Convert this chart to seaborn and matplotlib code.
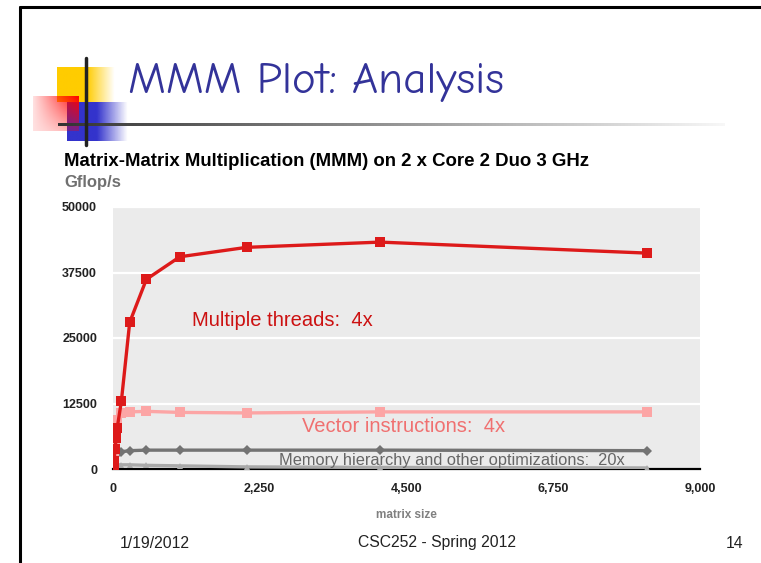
import numpy as np
import pandas as pd
import matplotlib
matplotlib.use("Agg")
import matplotlib.pyplot as plt
import seaborn as sns

# --- datos ---
sizes = [8, 16, 32, 48, 64, 128, 256, 512, 1024, 2048, 4096, 8192]
threads = [300, 1500, 3800, 6000, 7800, 12900, 28000, 36200, 40500, 42300, 43300, 41200]
vector = [200, 2100, 5200, 6900, 9400, 10600, 10900, 11000, 10800, 10700, 10900, 10900]
memory = [700, 1500, 2400, 2900, 3100, 3300, 3500, 3600, 3600, 3600, 3600, 3500]
naive = [500, 700, 800, 800, 800, 800, 800, 700, 600, 400, 300, 200]

series_names = ["naive", "memory", "vector", "threads"]
x_ticks = [0, 2250, 4500, 6750, 9000]
x_ticklabels = ["0", "2,250", "4,500", "6,750", "9,000"]
y_ticks = [0, 12500, 25000, 37500, 50000]

df = pd.concat([
    pd.DataFrame({"size": sizes, "gflops": naive, "series": "naive"}),
    pd.DataFrame({"size": sizes, "gflops": memory, "series": "memory"}),
    pd.DataFrame({"size": sizes, "gflops": vector, "series": "vector"}),
    pd.DataFrame({"size": sizes, "gflops": threads, "series": "threads"}),
])

palette = {"naive": "#a9a9a9", "memory": "#737373", "vector": "#fca5a5", "threads": "#dd1a1a"}
markers = {"naive": "^", "memory": "D", "vector": "s", "threads": "s"}
msizes = {"naive": 5, "memory": 5, "vector": 7, "threads": 6.5}

sns.set_style("white")
plt.rcParams['font.family'] = ['Liberation Sans', 'DejaVu Sans']

W, H = 761, 563
fig = plt.figure(figsize=(W / 100, H / 100), dpi=100)
fig.patch.set_facecolor("white")

# capa decorativa en coordenadas de píxel
deco = fig.add_axes([0, 0, 1, 1])
deco.set_xlim(0, W)
deco.set_ylim(H, 0)
deco.axis("off")

def gradient_box(x0, x1, y0, y1, rgb, fade_start, fade_end):
    nx, ny = 80, 40
    xs = np.linspace(x0, x1, nx)
    alpha = np.clip((fade_end - xs) / (fade_end - fade_start), 0, 1)
    img = np.zeros((ny, nx, 4))
    img[..., :3] = rgb
    img[..., 3] = np.tile(alpha, (ny, 1))
    deco.imshow(img, extent=(x0, x1, y1, y0), aspect="auto", interpolation="bilinear", zorder=1)

# marco de la diapositiva
deco.plot([20, 20], [7, H], color="black", lw=2.2, zorder=5)
deco.plot([20, W], [7, 7], color="black", lw=2.2, zorder=5)

# cuadros de colores
gradient_box(57, 115, 67, 102, (1.0, 0.80, 0.0), 87, 115)
gradient_box(67, 128, 102, 141, (0.2, 0.2, 0.8), 97, 128)
# cuadro rojo: más intenso arriba a la derecha
nx, ny = 60, 40
xs = np.linspace(0, 1, nx)[None, :]
ys = np.linspace(0, 1, ny)[:, None]
red = np.zeros((ny, nx, 4))
red[..., 0] = 1.0
red[..., 3] = np.clip(0.12 + 0.88 * xs * (1 - 0.75 * ys), 0, 1)
deco.imshow(red, extent=(33, 79, 131, 96), aspect="auto", interpolation="bilinear", zorder=2)

# líneas
deco.plot([86, 86], [58, 145], color="#222222", lw=2.5, zorder=4)
g = np.linspace(0.2, 0.97, 300)
strip = np.stack([g, g, g], axis=-1)[None, :, :]
deco.imshow(strip, extent=(58, 725, 126.5, 123.5), aspect="auto", interpolation="bilinear", zorder=3)

deco.text(128, 83, "MMM Plot: Analysis", color="#333399", fontsize=32.5,
          family=["Comic Neue", "DejaVu Sans"], va="center", ha="left", zorder=6)

# títulos del gráfico
deco.text(64, 162, "Matrix-Matrix Multiplication (MMM) on 2 x Core 2 Duo 3 GHz",
          fontsize=13.4, fontweight="bold", color="black", va="center", ha="left")
deco.text(64, 182, "Gflop/s", fontsize=12, fontweight="bold", color="#707070",
          va="center", ha="left")

# pie de página
narrow = ["Liberation Sans Narrow", "Liberation Sans", "DejaVu Sans"]
deco.text(155, 543, "1/19/2012", fontsize=11.3, family=narrow, color="#222222", ha="center", va="center")
deco.text(437, 543, "CSC252 - Spring 2012", fontsize=11.3, family=narrow, color="#222222", ha="center", va="center")
deco.text(735, 543, "14", fontsize=11.3, family=narrow, color="#222222", ha="center", va="center")

# --- gráfico principal ---
ax = fig.add_axes([113 / W, 1 - 469 / H, (700 - 113) / W, (469 - 207) / H])
ax.set_facecolor("#ebebeb")
for name in series_names:
    sns.lineplot(data=df[df["series"] == name], x="size", y="gflops",
                 color=palette[name], marker=markers[name], markersize=msizes[name],
                 markeredgewidth=0, linewidth=2.4, legend=False, ax=ax, zorder=3)

ax.set_xlim(0, 9000)
ax.set_ylim(0, 50000)
ax.set_xticks(x_ticks)
ax.set_xticklabels(x_ticklabels)
ax.set_yticks(y_ticks)
ax.set_yticklabels([str(v) for v in y_ticks])
for lab in ax.get_xticklabels() + ax.get_yticklabels():
    lab.set_fontweight("bold")
    lab.set_fontsize(9)
    lab.set_color("#222222")
ax.yaxis.grid(True, color="white", lw=1.6)
ax.set_axisbelow(True)
for side in ["top", "right", "left"]:
    ax.spines[side].set_visible(False)
ax.spines["bottom"].set_color("black")
ax.spines["bottom"].set_linewidth(1.6)
ax.tick_params(axis="x", direction="out", length=4, width=1, color="black", pad=6)
ax.tick_params(axis="y", length=0, pad=11.5)
ax.set_xlabel("matrix size", fontsize=8.5, fontweight="bold", color="#808080", labelpad=10)
ax.set_ylabel("")

ax.text(2590, 28400, "Multiple threads:  4x", color="#cc1111", fontsize=14.5, ha="center", va="center")
ax.text(4460, 8200, "Vector instructions:  4x", color="#f07070", fontsize=14.5, ha="center", va="center")
ax.text(5200, 1700, "Memory hierarchy and other optimizations:  20x", color="#666666",
        fontsize=11.8, ha="center", va="center")

fig.savefig("out.png", dpi=100, facecolor="white")
